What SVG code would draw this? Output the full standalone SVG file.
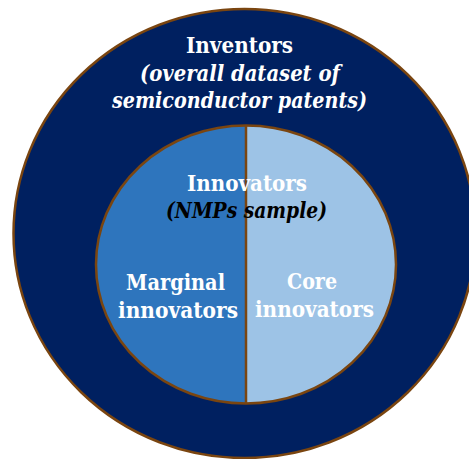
<svg xmlns="http://www.w3.org/2000/svg" width="469" height="459" viewBox="0 0 469 459">
  <style>
    .ring { stroke: #7a4510; stroke-width: 2.5; }
    .lbl { font-family: "DejaVu Serif Condensed", "DejaVu Serif", "Liberation Serif", serif; font-weight: bold; font-size: 22.5px; fill: #ffffff; text-anchor: middle; }
    .it { font-style: italic; }
    .dark { fill: #000000; }
  </style>
  <rect width="469" height="459" fill="#ffffff"/>

  <g id="inventors">
    <ellipse class="ring" cx="244.5" cy="233.5" rx="231" ry="224.5" fill="#002060"/>
    <text class="lbl" x="239.5" y="53" textLength="107" lengthAdjust="spacingAndGlyphs">Inventors</text>
    <text class="lbl it" x="240" y="81" textLength="200" lengthAdjust="spacingAndGlyphs">(overall dataset of</text>
    <text class="lbl it" x="239.5" y="108" textLength="255" lengthAdjust="spacingAndGlyphs">semiconductor patents)</text>
  </g>

  <g id="innovators">
    <!-- left half: marginal -->
    <path id="marginal-half" d="M246 125.5 A150 139 0 0 0 246 403.5 Z" fill="#2e75bd"/>
    <!-- right half: core -->
    <path id="core-half" d="M246 125.5 A150 139 0 0 1 246 403.5 Z" fill="#9dc3e6"/>
    <ellipse class="ring" cx="246" cy="264.5" rx="150" ry="139" fill="none"/>
    <line class="ring" x1="246" y1="125.5" x2="246" y2="403.5"/>
    <text class="lbl" x="247" y="191" textLength="120" lengthAdjust="spacingAndGlyphs">Innovators</text>
    <text class="lbl it dark" x="246.5" y="218" textLength="161" lengthAdjust="spacingAndGlyphs">(NMPs sample)</text>
  </g>

  <g id="marginal">
    <text class="lbl" x="175.5" y="290" textLength="99" lengthAdjust="spacingAndGlyphs">Marginal</text>
    <text class="lbl" x="178" y="318" textLength="120" lengthAdjust="spacingAndGlyphs">innovators</text>
  </g>

  <g id="core">
    <text class="lbl" x="312" y="289" textLength="50" lengthAdjust="spacingAndGlyphs">Core</text>
    <text class="lbl" x="314.5" y="317" textLength="119" lengthAdjust="spacingAndGlyphs">innovators</text>
  </g>

  <g id="connectors"/>
</svg>
